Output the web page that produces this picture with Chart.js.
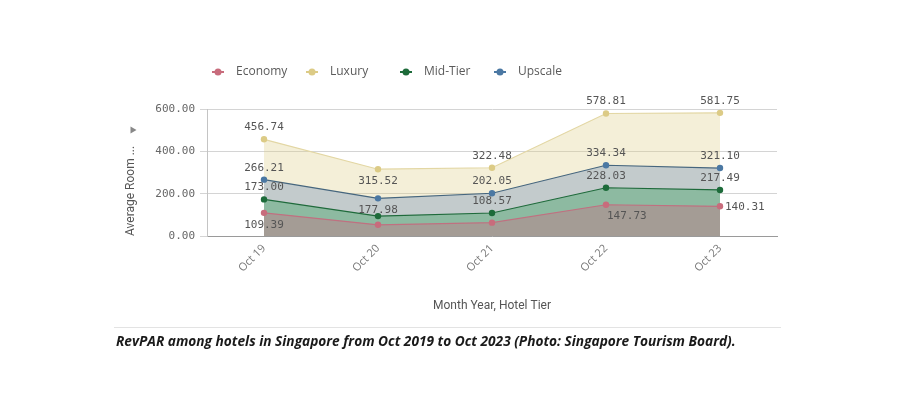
<!DOCTYPE html>
<html>
<head>
<meta charset="utf-8">
<script src="https://cdn.jsdelivr.net/npm/chart.js@4.4.1/dist/chart.umd.min.js"></script>
<style>
html,body{margin:0;padding:0;background:#fff;}
#wrap{position:relative;width:900px;height:400px;overflow:hidden;}
#c{position:absolute;left:0;top:0;}
#rule{position:absolute;left:114px;top:327px;width:667px;height:1px;background:#e3e3e3;}
#cap{position:absolute;left:116px;top:331px;font:italic 700 13.7px 'Open Sans',sans-serif;color:#1a1a1a;white-space:nowrap;}
</style>
</head>
<body>
<div id="wrap">
<canvas id="c" width="900" height="400"></canvas>
<div id="rule"></div>
<div id="cap">RevPAR among hotels in Singapore from Oct 2019 to Oct 2023 (Photo: Singapore Tourism Board).</div>
</div>
<script>
// ---- data ----
const categories = ['Oct 19', 'Oct 20', 'Oct 21', 'Oct 22', 'Oct 23'];
const seriesNames = ['Economy', 'Luxury', 'Mid-Tier', 'Upscale'];
const economy = [109.39, 53, 63, 147.73, 140.31];
const luxury  = [456.74, 315.52, 322.48, 578.81, 581.75];
const midTier = [173.00, 94, 108.57, 228.03, 217.49];
const upscale = [266.21, 177.98, 202.05, 334.34, 321.10];
const yTickValues = [0, 200, 400, 600];
const xTitle = 'Month Year, Hotel Tier';
const yTitle = 'Average Room ...';

// ---- label placement (style, not data) ----
const labelPlacement = {
  'Economy':  ['below', null, null, 'belowRight', 'right'],
  'Luxury':   ['above', 'below', 'above', 'above', 'above'],
  'Mid-Tier': ['above', null, 'above', 'above', 'above'],
  'Upscale':  ['above', 'below', 'above', 'above', 'above']
};

const styles = {
  'Economy':  {point:'#c86c7c', line:'#c07080', fill:'#a49c95', order:1},
  'Luxury':   {point:'#dccb86', line:'#e3d7a4', fill:'rgba(221,205,135,0.32)', order:4},
  'Mid-Tier': {point:'#1d6b3a', line:'#1f6a3b', fill:'#8dbaa1', order:2},
  'Upscale':  {point:'#4b78a3', line:'#46667e', fill:'#c3cbcc', order:3}
};
const values = {'Economy':economy, 'Luxury':luxury, 'Mid-Tier':midTier, 'Upscale':upscale};

const datasets = seriesNames.map(name => ({
  label: name,
  data: values[name],
  order: styles[name].order,
  borderColor: styles[name].line,
  backgroundColor: styles[name].fill,
  borderWidth: 1.2,
  fill: 'origin',
  tension: 0,
  pointRadius: 3.2,
  pointBorderWidth: 0,
  pointBackgroundColor: styles[name].point,
  pointBorderColor: styles[name].point
}));

const dataLabelPlugin = {
  id: 'dataLabels',
  afterDatasetsDraw(chart) {
    const ctx = chart.ctx;
    ctx.save();
    ctx.font = "11px 'DejaVu Sans Mono', monospace";
    ctx.fillStyle = '#555';
    chart.data.datasets.forEach((ds, i) => {
      const meta = chart.getDatasetMeta(i);
      const place = labelPlacement[ds.label];
      meta.data.forEach((pt, j) => {
        const p = place[j];
        if (!p) return;
        const txt = Number(ds.data[j]).toFixed(2);
        let x = pt.x, y = pt.y;
        ctx.textBaseline = 'middle';
        if (p === 'above') { ctx.textAlign = 'center'; y -= 12; }
        else if (p === 'below') { ctx.textAlign = 'center'; y += 12; }
        else if (p === 'belowRight') { ctx.textAlign = 'left'; x += 1; y += 11; }
        else if (p === 'right') { ctx.textAlign = 'left'; x += 5; y += 1; }
        ctx.fillText(txt, x, y);
      });
    });
    ctx.restore();
  }
};

const legendPlugin = {
  id: 'customLegend',
  afterDraw(chart) {
    const ctx = chart.ctx;
    ctx.save();
    const startX = 218, y = 72, col = 94;
    chart.data.datasets.forEach((ds, i) => {
      const cx = startX + i * col;
      const c = styles[ds.label].point;
      ctx.strokeStyle = c;
      ctx.lineWidth = 2;
      ctx.beginPath();
      ctx.moveTo(cx - 6, y); ctx.lineTo(cx + 6, y); ctx.stroke();
      ctx.fillStyle = c;
      ctx.beginPath(); ctx.arc(cx, y, 3.5, 0, Math.PI * 2); ctx.fill();
      ctx.fillStyle = '#5a5a5a';
      ctx.font = "12px 'Open Sans', sans-serif";
      ctx.textAlign = 'left';
      ctx.textBaseline = 'middle';
      ctx.fillText(ds.label, cx + 18, y);
    });
    // small collapse triangle beside the y-axis title
    ctx.fillStyle = '#888';
    ctx.beginPath();
    ctx.moveTo(130.5, 126.5); ctx.lineTo(136.5, 130); ctx.lineTo(130.5, 133.5); ctx.closePath();
    ctx.fill();
    ctx.restore();
  }
};

new Chart(document.getElementById('c'), {
  type: 'line',
  data: { labels: categories, datasets },
  options: {
    responsive: false,
    animation: false,
    devicePixelRatio: 1,
    layout: { padding: { left: 120, right: 123, top: 109, bottom: 87 } },
    plugins: {
      legend: { display: false },
      tooltip: { enabled: false },
      filler: { propagate: false }
    },
    scales: {
      x: {
        offset: true,
        grid: { display: false, drawTicks: false },
        border: { display: true, color: '#9a9a9a', width: 1 },
        ticks: {
          minRotation: 45, maxRotation: 45, padding: 6,
          color: '#777', font: { family: "'Open Sans', sans-serif", size: 11 }
        },
        title: {
          display: true, text: xTitle, color: '#555',
          font: { family: "'Roboto', sans-serif", size: 12 },
          padding: { top: 4, bottom: 0 }
        },
        afterFit(scale) { scale.height = 77; }
      },
      y: {
        min: 0, max: 600,
        afterBuildTicks(scale) { scale.ticks = yTickValues.map(v => ({ value: v })); },
        grid: { color: '#d4d4d4', tickLength: 7, tickColor: '#d4d4d4' },
        border: { display: true, color: '#c4c4c4' },
        ticks: {
          padding: 5, color: '#666',
          font: { family: "'DejaVu Sans Mono', monospace", size: 11 },
          callback: v => Number(v).toFixed(2)
        },
        title: {
          display: true, text: yTitle, align: 'start', color: '#555',
          font: { family: "'Roboto', sans-serif", size: 12 },
          padding: { top: 4, bottom: 0 }
        },
        afterFit(scale) { scale.width = 87; }
      }
    }
  },
  plugins: [dataLabelPlugin, legendPlugin]
});
</script>
</body>
</html>
